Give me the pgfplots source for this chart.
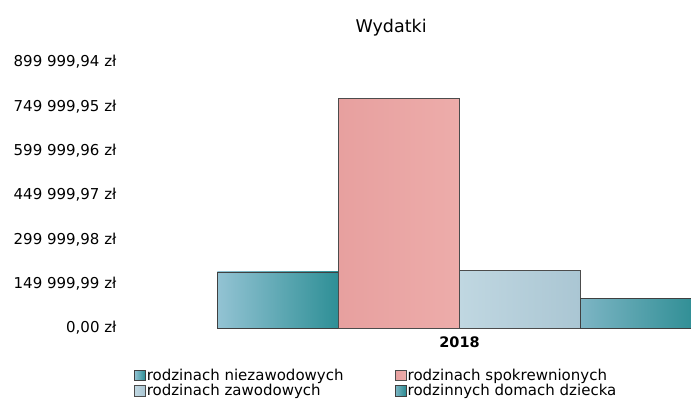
\documentclass[border=0pt]{standalone}
\usepackage{pgfplots}
\pgfplotsset{compat=1.18}
\usepackage{fontspec}
\setmainfont{DejaVu Sans}
\definecolor{tealA}{HTML}{93C3D3}
\definecolor{tealB}{HTML}{2E8F96}
\definecolor{pinkA}{HTML}{E7A09F}
\definecolor{pinkB}{HTML}{EDACAA}
\definecolor{lblA}{HTML}{C0D7E1}
\definecolor{lblB}{HTML}{AAC6D3}
\definecolor{tealC}{HTML}{7DB5C4}
\definecolor{tealD}{HTML}{2B8C92}
\begin{document}
\begin{tikzpicture}
\useasboundingbox (0,0) rectangle (691pt,-407pt);
\begin{axis}[
  at={(218pt,-328pt)}, anchor=south west,
  scale only axis, width=473pt, height=266pt,
  clip=false,
  ybar=0pt, bar width=121pt,
  xmin=-241.5, xmax=231.5,
  ymin=0, ymax=899999.94,
  scaled y ticks=false,
  axis line style={draw=none},
  major tick length=0pt,
  /pgf/number format/assume math mode=true,
  xtick={0}, xticklabels={2018},
  xticklabel style={font=\fontsize{14.5}{16}\selectfont\bfseries, yshift=-5pt},
  ytick={0,149999.99,299999.98,449999.97,599999.96,749999.95,899999.94},
  yticklabels={{0,00 zł},{149 999,99 zł},{299 999,98 zł},{449 999,97 zł},{599 999,96 zł},{749 999,95 zł},{899 999,94 zł}},
  yticklabel style={font=\fontsize{15}{16}\selectfont, anchor=east, xshift=-98pt},
  title={Wydatki},
  title style={at={(0.366,1.105)}, anchor=center, font=\fontsize{17.5}{18}\selectfont},
  legend columns=2,
  legend cell align=left,
  legend style={at={(-0.184,-0.140)}, anchor=north west, draw=none, fill=none,
    font=\fontsize{15}{16}\selectfont,
    nodes={inner ysep=1.2pt, inner xsep=1.5pt},
    /tikz/every even column/.append style={column sep=50pt}},
  legend image code/.code={\draw[#1, line width=0.6pt] (0pt,-5.5pt) rectangle (10.5pt,5pt);},
]
\addplot[draw=black!75, line width=0.7pt, left color=tealA, right color=tealB] coordinates {(0,189500)};
\addlegendentry{rodzinach niezawodowych}
\addplot[draw=black!70, line width=0.7pt, left color=pinkA, right color=pinkB] coordinates {(0,778000)};
\addlegendentry{rodzinach spokrewnionych}
\addplot[draw=black!70, line width=0.7pt, left color=lblA, right color=lblB] coordinates {(0,196000)};
\addlegendentry{rodzinach zawodowych}
\addplot[draw=black!75, line width=0.7pt, left color=tealC, right color=tealD] coordinates {(0,101500)};
\addlegendentry{rodzinnych domach dziecka}
\end{axis}
\end{tikzpicture}
\end{document}
